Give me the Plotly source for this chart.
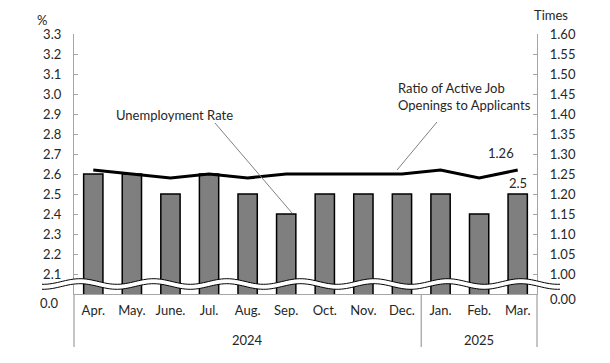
import numpy as np
import plotly.graph_objects as go

months = ["Apr.", "May.", "June.", "Jul.", "Aug.", "Sep.", "Oct.", "Nov.", "Dec.", "Jan.", "Feb.", "Mar."]
years = ["2024", "2025"]
unemployment = [2.6, 2.6, 2.5, 2.6, 2.5, 2.4, 2.5, 2.5, 2.5, 2.5, 2.4, 2.5]
ratio = [1.26, 1.25, 1.24, 1.25, 1.24, 1.25, 1.25, 1.25, 1.25, 1.26, 1.24, 1.26]
left_ticks = [2.1, 2.2, 2.3, 2.4, 2.5, 2.6, 2.7, 2.8, 2.9, 3.0, 3.1, 3.2, 3.3]
right_ticks = [1.00, 1.05, 1.10, 1.15, 1.20, 1.25, 1.30, 1.35, 1.40, 1.45, 1.50, 1.55, 1.60]

OFF = 8  # default page body margin
W, H = 610 - OFF, 363 - OFF
L, R, T, B = 74, 537, 34, 294  # plot area in reference pixels
FONT = "Lato"
TXT = "#262626"
AX = "#a6a6a6"

def px(x):
    return (x - L) / (R - L)

def py(y):
    return (B - y) / (B - T)

x = list(range(len(months)))

fig = go.Figure()
fig.add_trace(go.Bar(
    x=x, y=unemployment, width=0.5,
    marker=dict(color="#7f7f7f", line=dict(color="#000000", width=1.5)),
    showlegend=False, hoverinfo="skip",
))
fig.add_trace(go.Scatter(
    x=x, y=ratio, yaxis="y2", mode="lines",
    line=dict(color="#000000", width=3),
    showlegend=False, hoverinfo="skip",
))

shapes = []
for xp in [0.0, 9 / 12, 1.0]:
    shapes.append(dict(type="line", xref="paper", yref="paper", x0=xp, x1=xp,
                       y0=0, y1=py(347), line=dict(color=AX, width=1.3), layer="above"))

# axis break wave (decoration)
xs = np.linspace(42, 560, 200)
period, peak = 73.5, 80.0
amp = 2.8
upper = 281.5 - amp * np.cos(2 * np.pi * (xs - peak) / period)
lower = upper + 5.0
def pts(xa, ya):
    return " L ".join(f"{px(a):.5f},{py(b):.5f}" for a, b in zip(xa, ya))
fill_path = "M " + pts(xs, upper) + " L " + pts(xs[::-1], lower[::-1]) + " Z"
shapes.append(dict(type="path", xref="paper", yref="paper", path=fill_path,
                   fillcolor="white", line=dict(width=0), layer="above"))
for arr in (upper, lower):
    shapes.append(dict(type="path", xref="paper", yref="paper", path="M " + pts(xs, arr),
                       line=dict(color="#000000", width=1), layer="above"))

shapes.append(dict(type="line", xref="paper", yref="paper", x0=px(215), y0=py(123),
                   x1=px(292), y1=py(213), line=dict(color="#808080", width=1), layer="above"))
shapes.append(dict(type="line", xref="paper", yref="paper", x0=px(437), y0=py(122),
                   x1=px(397), y1=py(170), line=dict(color="#808080", width=1), layer="above"))

def ann(text, xx, yy, **kw):
    d = dict(text=text, x=xx, y=yy, xref="paper", yref="paper", showarrow=False,
             xanchor="center", yanchor="middle",
             font=dict(size=13, color=TXT, family=FONT))
    d.update(kw)
    return d

annotations = [
    ann("Unemployment Rate", px(174), py(115)),
    ann("Ratio of Active Job<br>Openings to Applicants", px(396), py(96), xanchor="left", align="left"),
    ann(f"{ratio[-1]:.2f}", px(501), py(153)),
    ann(f"{unemployment[-1]:.1f}", 11, unemployment[-1], xref="x", yref="y", yanchor="bottom", yshift=1),
    ann("%", px(42), py(20)),
    ann("Times", px(551), py(15)),
    ann("0.0", 0, py(303), xanchor="right", xshift=-13),
    ann("0.00", 1, py(299), xanchor="left", xshift=11),
    ann(years[0], 4, py(340), xref="x"),
    ann(years[1], 10, py(340), xref="x"),
]

fig.update_layout(
    width=W, height=H,
    margin=dict(l=L - OFF, r=W - (R - OFF), t=T - OFF, b=H - (B - OFF), pad=0, autoexpand=False),
    paper_bgcolor="white", plot_bgcolor="white",
    font=dict(family=FONT, size=13, color=TXT),
    bargap=0.5,
    xaxis=dict(range=[-0.5, 11.5], tickvals=x, ticktext=months, showgrid=False, automargin=False,
               zeroline=False, showline=True, linecolor=AX, linewidth=1.3,
               ticks="", ticklabelstandoff=4, tickfont=dict(size=13, color=TXT)),
    yaxis=dict(range=[2.0, 3.3], tickvals=left_ticks, ticktext=[f"{v:.1f}" for v in left_ticks],
               showgrid=False, zeroline=False, showline=True, linecolor=AX, linewidth=1.3,
               automargin=False,
               ticks="inside", ticklen=4, tickcolor=AX, ticklabelstandoff=9,
               tickfont=dict(size=13, color=TXT)),
    yaxis2=dict(range=[0.95, 1.60], overlaying="y", side="right", tickvals=right_ticks,
                ticktext=[f"{v:.2f}" for v in right_ticks], showgrid=False, zeroline=False,
                automargin=False,
                showline=True, linecolor=AX, linewidth=1.3, ticks="inside", ticklen=4,
                tickcolor=AX, ticklabelstandoff=9, tickfont=dict(size=13, color=TXT)),
    shapes=shapes, annotations=annotations,
)

fig.write_html("out.html")
